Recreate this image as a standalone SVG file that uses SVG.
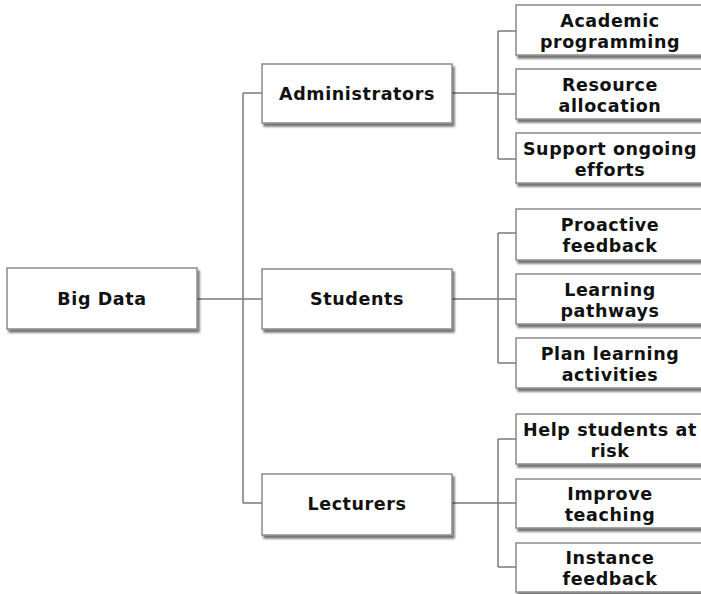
<svg xmlns="http://www.w3.org/2000/svg" width="701" height="594" viewBox="0 0 701 594">
<defs>
<filter id="sh" x="-5%" y="-10%" width="115%" height="130%">
<feGaussianBlur in="SourceAlpha" stdDeviation="1"/>
<feOffset dx="2" dy="3" result="b"/>
<feComponentTransfer><feFuncA type="linear" slope="0.55"/></feComponentTransfer>
<feMerge><feMergeNode/><feMergeNode in="SourceGraphic"/></feMerge>
</filter>
</defs>
<style>
.box{fill:#fff;stroke:#8a8a8a;stroke-width:1.5;filter:url(#sh)}
.t{font-family:"DejaVu Sans",Verdana,sans-serif;font-weight:bold;font-size:17.5px;letter-spacing:0.6px;fill:#111;text-anchor:middle}
.c{fill:none;stroke:#7a7a7a;stroke-width:1.5}
</style>
<rect width="701" height="594" fill="#fff"/>
<g id="connectors">
<path class="c" d="M197 299H243M243 93V503M243 93H262M243 299H262M243 503H262"/>
<path class="c" d="M452 93H498M498 31V159M498 31H516M498 94H516M498 159H516"/>
<path class="c" d="M452 299H498M498 233V363M498 233H516M498 299H516M498 363H516"/>
<path class="c" d="M452 503H498M498 439V567M498 439H516M498 503H516M498 567H516"/>
</g>
<g id="bigdata"><rect class="box" x="7" y="268" width="190" height="61"/><text class="t" x="102" y="305">Big Data</text></g>
<g id="administrators"><rect class="box" x="262" y="64" width="190" height="59"/><text class="t" x="357" y="100">Administrators</text></g>
<g id="students"><rect class="box" x="262" y="269" width="190" height="60"/><text class="t" x="357" y="305">Students</text></g>
<g id="lecturers"><rect class="box" x="262" y="474" width="190" height="61"/><text class="t" x="357" y="510">Lecturers</text></g>
<g id="academic"><rect class="box" x="516" y="5" width="190" height="50"/><text class="t" x="610" y="27">Academic</text><text class="t" x="610" y="48">programming</text></g>
<g id="resource"><rect class="box" x="516" y="69" width="190" height="50"/><text class="t" x="610" y="91">Resource</text><text class="t" x="610" y="112">allocation</text></g>
<g id="support"><rect class="box" x="516" y="133" width="190" height="50"/><text class="t" x="610" y="155">Support ongoing</text><text class="t" x="610" y="176">efforts</text></g>
<g id="proactive"><rect class="box" x="516" y="209" width="190" height="51"/><text class="t" x="610" y="231">Proactive</text><text class="t" x="610" y="252">feedback</text></g>
<g id="pathways"><rect class="box" x="516" y="274" width="190" height="50"/><text class="t" x="610" y="296">Learning</text><text class="t" x="610" y="317">pathways</text></g>
<g id="plan"><rect class="box" x="516" y="338" width="190" height="50"/><text class="t" x="610" y="360">Plan learning</text><text class="t" x="610" y="381">activities</text></g>
<g id="help"><rect class="box" x="516" y="414" width="190" height="50"/><text class="t" x="610" y="436">Help students at</text><text class="t" x="610" y="457">risk</text></g>
<g id="improve"><rect class="box" x="516" y="479" width="190" height="49"/><text class="t" x="610" y="500">Improve</text><text class="t" x="610" y="521">teaching</text></g>
<g id="instance"><rect class="box" x="516" y="543" width="190" height="49"/><text class="t" x="610" y="564">Instance</text><text class="t" x="610" y="585">feedback</text></g>
</svg>
